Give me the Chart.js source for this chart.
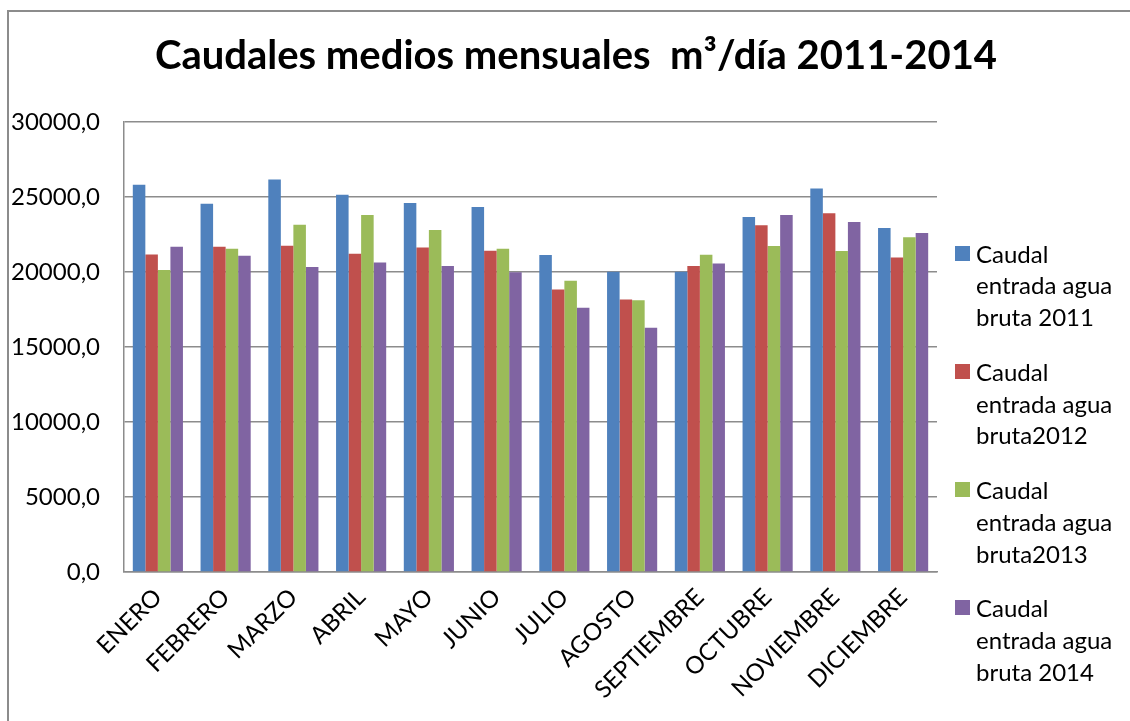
<!DOCTYPE html>
<html>
<head>
<meta charset="utf-8">
<script src="https://cdn.jsdelivr.net/npm/chart.js@4.4.1/dist/chart.umd.min.js"></script>
<style>
    html, body { margin: 0; padding: 0; background: #fff; overflow: hidden; }
    #wrap { position: relative; width: 1130px; height: 721px; }
    #frame { position: absolute; left: 7px; top: 10px; width: 2000px; height: 2000px; border: 2px solid #8c8c8c; }
    #chart { position: absolute; left: 0; top: 0; }
    #title { position: absolute; left: 0; width: 1152px; top: 30px; text-align: center; font-family: Lato, sans-serif;
             font-weight: bold; font-size: 40px; line-height: 48px; color: #000; white-space: pre; }
    #legend { position: absolute; left: 955px; top: 0; font-family: Lato, sans-serif; font-size: 24px; color: #000; }
    .item { position: absolute; left: 0; width: 170px; }
    .swatch { position: absolute; left: 0; top: 8px; width: 15px; height: 15px; }
    .txt { position: absolute; left: 21px; top: 0; line-height: 31.7px; white-space: nowrap; }
</style>
</head>
<body>
<div id="wrap">
    <div id="frame"></div>
    <canvas id="chart" width="1130" height="721"></canvas>
    <div id="title"></div>
    <div id="legend"></div>
</div>
<script>
// Caudales medios mensuales m3/dia 2011-2014

const months = ['ENERO', 'FEBRERO', 'MARZO', 'ABRIL', 'MAYO', 'JUNIO', 'JULIO', 'AGOSTO',
    'SEPTIEMBRE', 'OCTUBRE', 'NOVIEMBRE', 'DICIEMBRE'];

const caudal2011 = [25820, 24550, 26170, 25150, 24600, 24330, 21130, 20020, 20020, 23670, 25570, 22930];
const caudal2012 = [21170, 21690, 21750, 21220, 21640, 21420, 18840, 18170, 20400, 23110, 23910, 20970];
const caudal2013 = [20130, 21550, 23150, 23800, 22800, 21550, 19420, 18110, 21150, 21730, 21400, 22310];
const caudal2014 = [21690, 21090, 20330, 20640, 20400, 19980, 17620, 16290, 20570, 23800, 23330, 22600];

const yTicks = [0, 5000, 10000, 15000, 20000, 25000, 30000];

const titleText = 'Caudales medios mensuales  m³/día 2011-2014';
const seriesLines = [
    ['Caudal', 'entrada agua', 'bruta 2011'],
    ['Caudal', 'entrada agua', 'bruta2012'],
    ['Caudal', 'entrada agua', 'bruta2013'],
    ['Caudal', 'entrada agua', 'bruta 2014']
];
const seriesColors = ['#4F81BD', '#C0504D', '#9BBB59', '#8064A2'];
const seriesData = [caudal2011, caudal2012, caudal2013, caudal2014];

const FONT = 'Lato, sans-serif';
const GRID = '#8c8c8c';

document.getElementById('title').textContent = titleText;

const chart = new Chart(document.getElementById('chart'), {
    type: 'bar',
    data: {
        labels: months,
        datasets: seriesData.map((d, i) => ({
            label: seriesLines[i].join(' '),
            data: d,
            backgroundColor: seriesColors[i],
            borderWidth: 0,
            categoryPercentage: 0.74,
            barPercentage: 1.0
        }))
    },
    options: {
        responsive: false,
        animation: false,
        layout: { padding: { left: 0, right: 193, top: 122, bottom: 0 } },
        plugins: {
            legend: { display: false },
            tooltip: { enabled: false },
            title: { display: false }
        },
        scales: {
            x: {
                grid: { display: false, drawTicks: false },
                border: { display: true, color: GRID, width: 1.5 },
                ticks: {
                    color: '#000',
                    font: { family: FONT, size: 24 },
                    minRotation: 45,
                    maxRotation: 45,
                    padding: 11
                },
                afterFit: (scale) => { scale.height = 149; }
            },
            y: {
                min: 0,
                max: 30000,
                afterBuildTicks: (scale) => { scale.ticks = yTicks.map(v => ({ value: v })); },
                grid: { color: GRID, lineWidth: 1.5, drawTicks: false },
                border: { display: true, color: GRID, width: 1.5 },
                ticks: {
                    color: '#000',
                    font: { family: FONT, size: 24 },
                    padding: 24,
                    callback: (v) => v.toFixed(1).replace('.', ',')
                },
                afterFit: (scale) => { scale.width = 124; }
            }
        }
    }
});

// legend: square + three lines of text per series
const legend = document.getElementById('legend');
chart.data.datasets.forEach((ds, i) => {
    const item = document.createElement('div');
    item.className = 'item';
    item.style.top = (237.5 + i * 118.3) + 'px';
    const sw = document.createElement('div');
    sw.className = 'swatch';
    sw.style.background = ds.backgroundColor;
    const txt = document.createElement('div');
    txt.className = 'txt';
    txt.innerHTML = seriesLines[i].join('<br>');
    item.appendChild(sw);
    item.appendChild(txt);
    legend.appendChild(item);
});
</script>
</body>
</html>
